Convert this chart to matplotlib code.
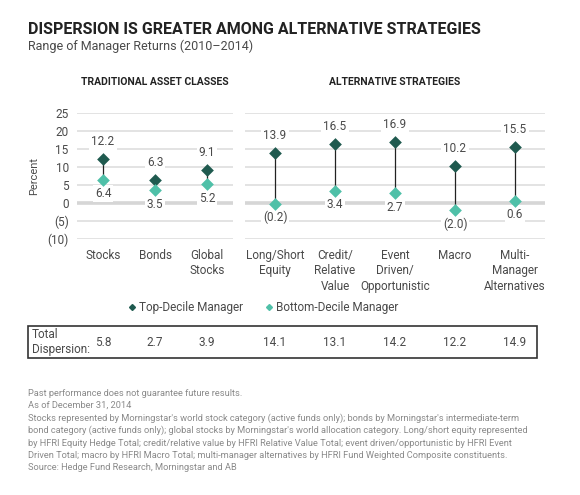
import matplotlib.pyplot as plt
from matplotlib.patches import Rectangle
from matplotlib.lines import Line2D

plt.rcParams['font.family'] = ['Roboto', 'DejaVu Sans']

# data
trad_labels = ['Stocks', 'Bonds', 'Global\nStocks']
trad_top = [12.2, 6.3, 9.1]
trad_bottom = [6.4, 3.5, 5.2]
trad_disp = [5.8, 2.7, 3.9]

alt_labels = ['Long/Short\nEquity', 'Credit/\nRelative\nValue', 'Event\nDriven/\nOpportunistic',
              'Macro', 'Multi-\nManager\nAlternatives']
alt_top = [13.9, 16.5, 16.9, 10.2, 15.5]
alt_bottom = [-0.2, 3.4, 2.7, -2.0, 0.6]
alt_disp = [14.1, 13.1, 14.2, 12.2, 14.9]

yticks = [25, 20, 15, 10, 5, 0, -5, -10]

TOP = '#1f5a4f'
BOT = '#4fc0a8'
GRID = '#e3e3e3'
TXT = '#4a4a4a'

W, H = 580, 495
fig = plt.figure(figsize=(W / 100, H / 100), dpi=100)


def fmt(v):
    return '(%.1f)' % abs(v) if v < 0 else '%.1f' % v


def px_axes(x0, y0, x1, y1):
    return fig.add_axes([x0 / W, 1 - y1 / H, (x1 - x0) / W, (y1 - y0) / H])


def draw_panel(ax, labels, top, bottom):
    n = len(labels)
    ax.set_xlim(-0.5, n - 0.5)
    ax.set_ylim(-10, 25)
    for s in ax.spines.values():
        s.set_visible(False)
    for t in yticks:
        ax.axhline(t, color='#d6d6d6' if t == 0 else GRID,
                   lw=2.6 if t == 0 else 1.4, zorder=0)
    ax.set_xticks([])
    ax.set_yticks(yticks)
    ax.tick_params(axis='y', length=0)
    xs = list(range(n))
    for x, t, b, lab in zip(xs, top, bottom, labels):
        ax.plot([x, x], [b, t], color='#222222', lw=0.9, zorder=2)
        ax.annotate(fmt(t), (x, t), xytext=(0, 12.5), textcoords='offset points',
                    ha='center', va='center', fontsize=8.5, color=TXT,
                    zorder=1, bbox=dict(facecolor='white', edgecolor='none', pad=1.5))
        ax.annotate(fmt(b), (x, b), xytext=(0, -10), textcoords='offset points',
                    ha='center', va='center', fontsize=8.5, color=TXT,
                    zorder=1, bbox=dict(facecolor='white', edgecolor='none', pad=1.5))
        ax.annotate(lab, (x, -10), xytext=(0, -7), textcoords='offset points',
                    ha='center', va='top', fontsize=8.5, color=TXT,
                    linespacing=1.25)
    ax.scatter(xs, top, marker='D', s=42, color=TOP, zorder=3, lw=0)
    ax.scatter(xs, bottom, marker='D', s=42, color=BOT, zorder=3, lw=0)


ax1 = px_axes(77, 113, 233, 239)
draw_panel(ax1, trad_labels, trad_top, trad_bottom)
ax1.set_yticklabels([fmt(v).replace('.0', '') for v in yticks], fontsize=8.5, color=TXT)
ax1.tick_params(axis='y', pad=6)
ax1.set_ylabel('Percent', fontsize=8, color=TXT, labelpad=6)

ax2 = px_axes(245, 113, 545, 239)
draw_panel(ax2, alt_labels, alt_top, alt_bottom)
ax2.set_yticklabels([])

# titles
fig.text(28 / W, 1 - 30 / H, 'DISPERSION IS GREATER AMONG ALTERNATIVE STRATEGIES',
         fontsize=11.5, fontweight='bold', color='#222222', va='center')
fig.text(28 / W, 1 - 46 / H, 'Range of Manager Returns (2010\u20132014)',
         fontsize=9, color=TXT, va='center')
fig.text(155 / W, 1 - 82 / H, 'TRADITIONAL ASSET CLASSES', fontsize=7.5,
         fontweight='bold', color='#222222', ha='center', va='center')
fig.text(395 / W, 1 - 82 / H, 'ALTERNATIVE STRATEGIES', fontsize=7.5,
         fontweight='bold', color='#222222', ha='center', va='center')

# legend
handles = [Line2D([], [], marker='D', ls='none', color=TOP, markersize=3),
           Line2D([], [], marker='D', ls='none', color=BOT, markersize=3)]
fig.legend(handles, ['Top-Decile Manager', 'Bottom-Decile Manager'], ncol=2,
           loc='center', bbox_to_anchor=(262 / W, 1 - 308 / H), frameon=False,
           fontsize=8.5, labelcolor=TXT, handletextpad=0.0,
           columnspacing=1.6, handlelength=1.2)

# total dispersion table
fig.patches.append(Rectangle((28 / W, 1 - 358 / H), (537 - 28) / W, 32 / H,
                             transform=fig.transFigure, fill=False,
                             edgecolor='#333333', lw=1.2))
fig.text(32 / W, 1 - 342 / H, 'Total\nDispersion:', fontsize=8.5, color=TXT,
         va='center', linespacing=1.1)
for ax, vals in [(ax1, trad_disp), (ax2, alt_disp)]:
    for i, v in enumerate(vals):
        xf = fig.transFigure.inverted().transform(ax.transData.transform((i, 0)))[0]
        fig.text(xf, 1 - 343 / H, '%.1f' % v, fontsize=8.5, color=TXT,
                 ha='center', va='center')

notes = [
    'Past performance does not guarantee future results.',
    'As of December 31, 2014',
    "Stocks represented by Morningstar's world stock category (active funds only); bonds by Morningstar's intermediate-term",
    "bond category (active funds only); global stocks by Morningstar's world allocation category. Long/short equity represented",
    'by HFRI Equity Hedge Total; credit/relative value by HFRI Relative Value Total; event driven/opportunistic by HFRI Event',
    'Driven Total; macro by HFRI Macro Total; multi-manager alternatives by HFRI Fund Weighted Composite constituents.',
    'Source: Hedge Fund Research, Morningstar and AB',
]
for i, line in enumerate(notes):
    fig.text(28 / W, 1 - (393 + 12.5 * i) / H, line, fontsize=6.7,
             color='#8a8a8a', va='center')

fig.savefig('out.png', dpi=100)
